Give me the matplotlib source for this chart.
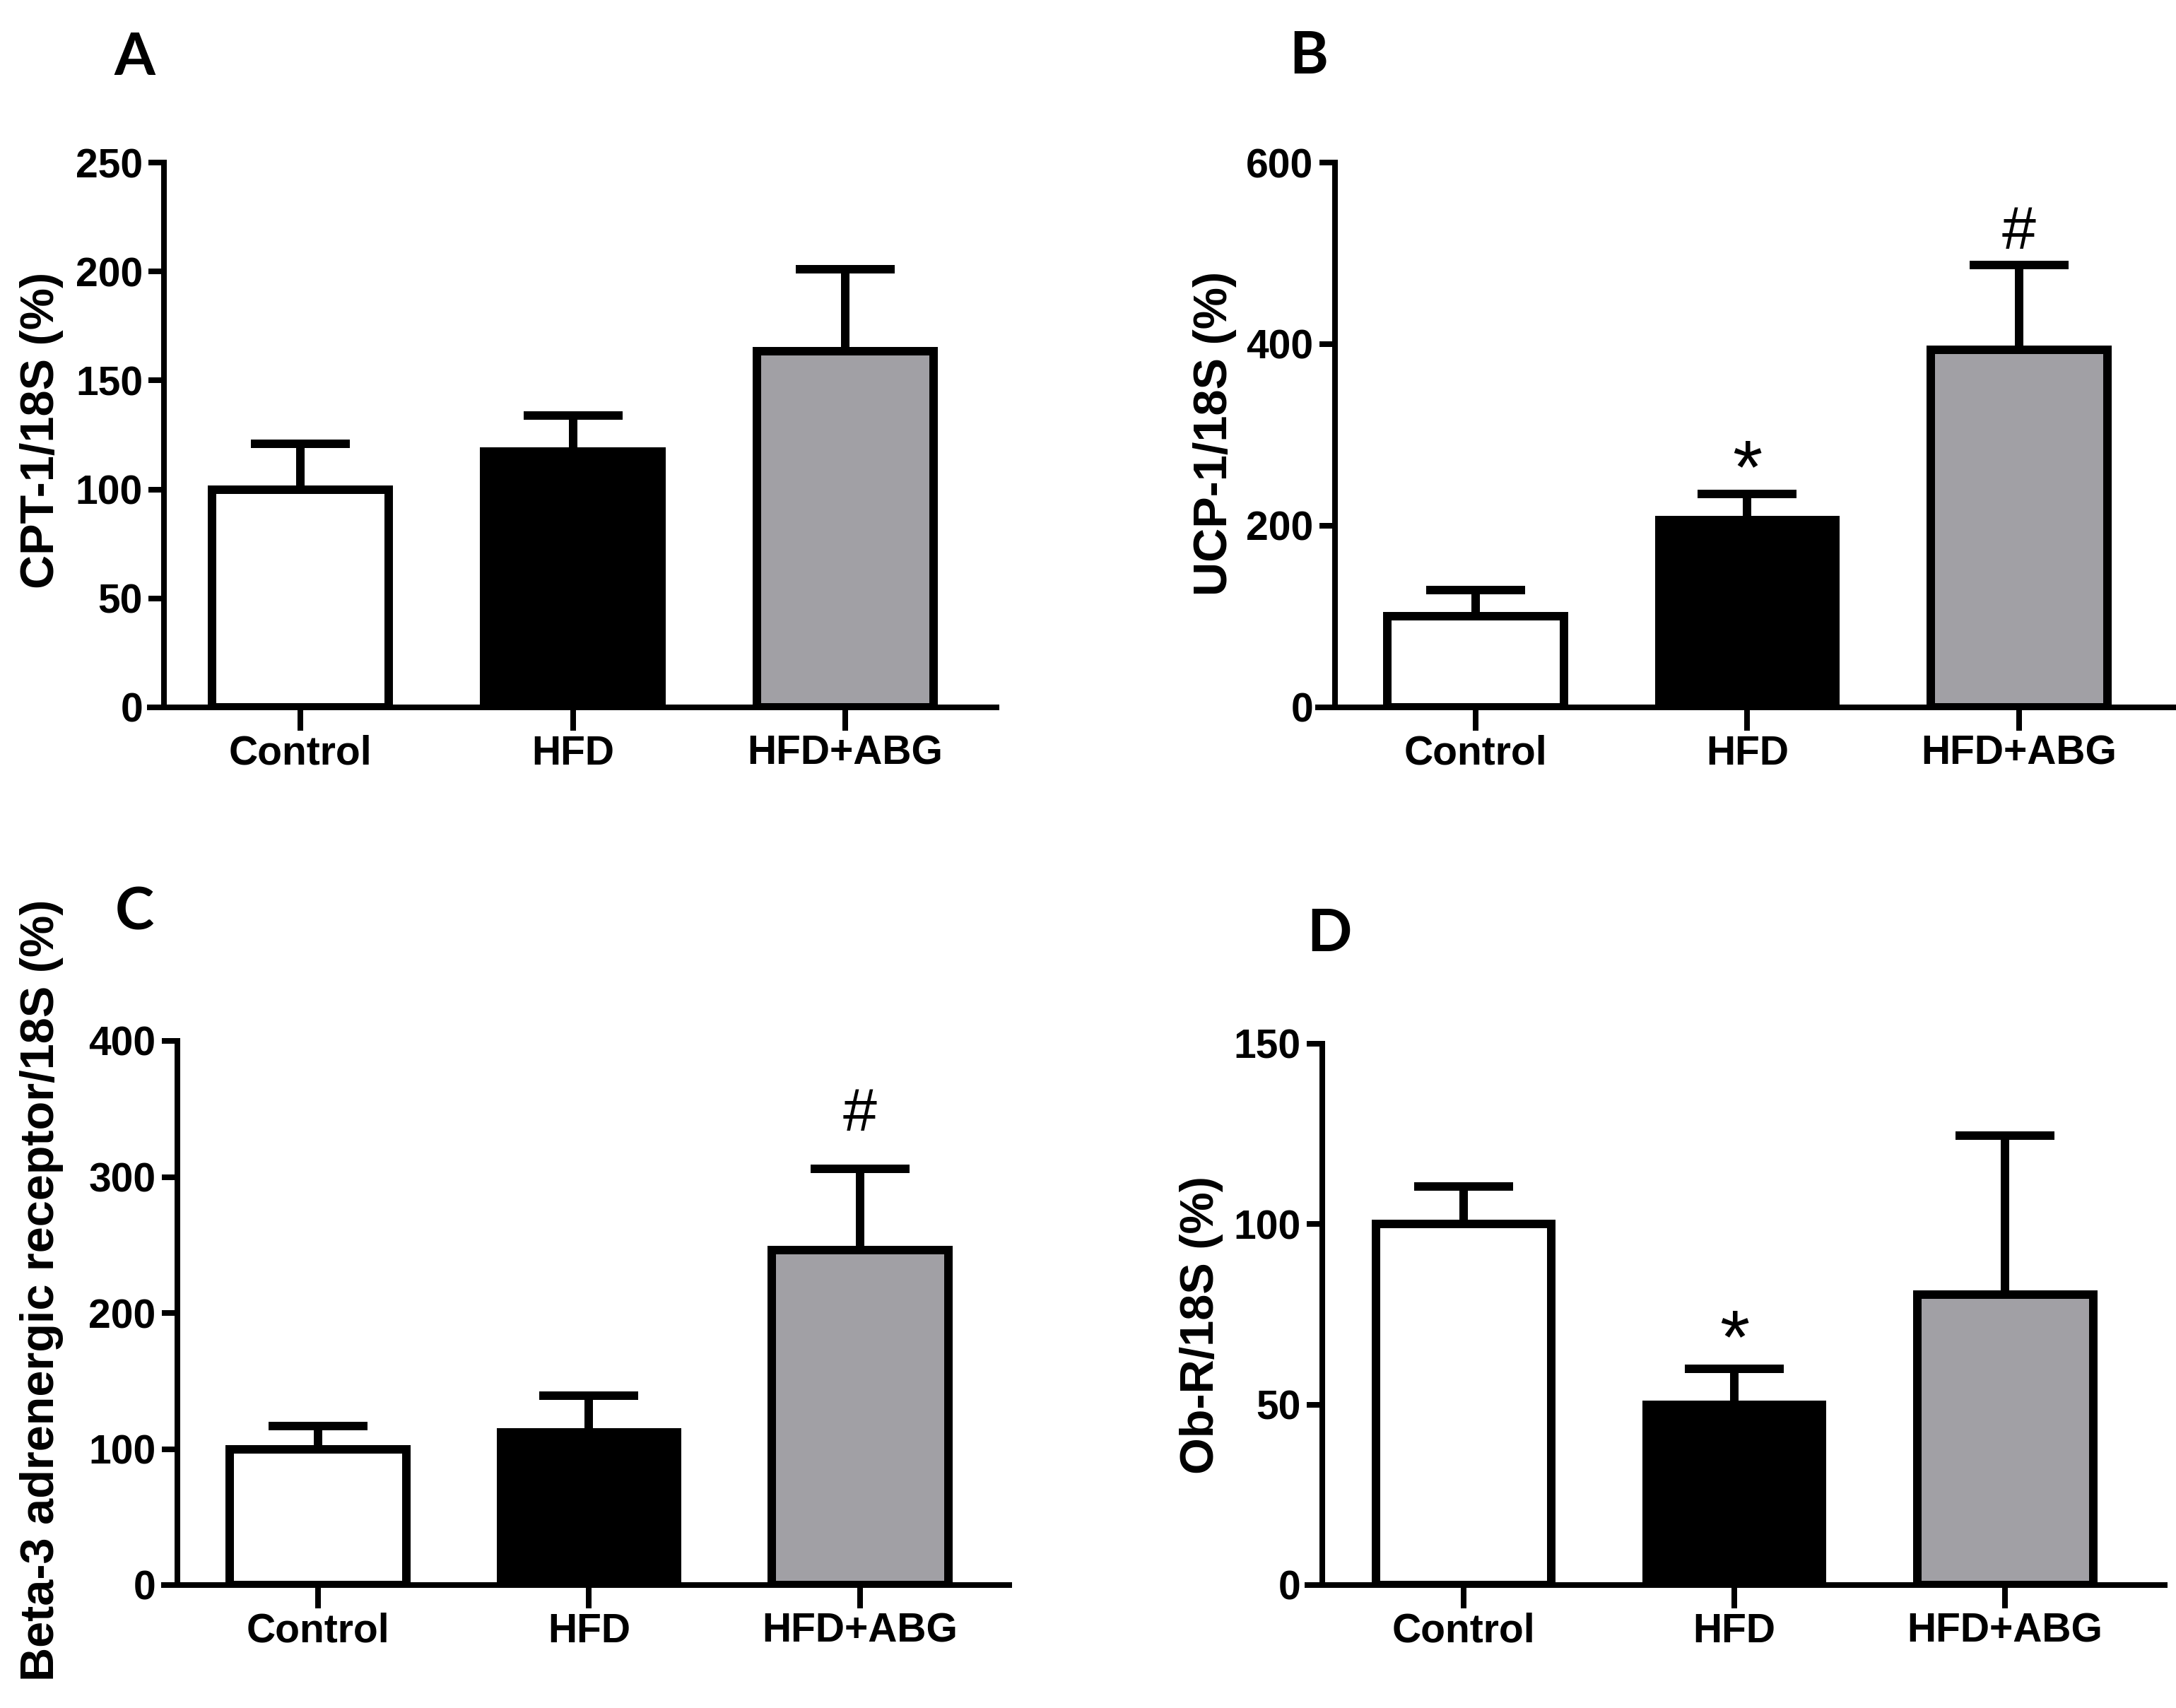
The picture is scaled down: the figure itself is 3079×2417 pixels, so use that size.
import matplotlib
matplotlib.use('Agg')
import matplotlib.pyplot as plt
import numpy as np

plt.rcParams['font.family'] = ['Liberation Sans', 'DejaVu Sans']

# ---------------- data ----------------
groups = ['Control', 'HFD', 'HFD+ABG']

cpt1_mean = [100, 117.5, 163.5]
cpt1_sem = [21, 16.5, 37.5]

ucp1_mean = [100, 206, 394]
ucp1_sem = [29, 29, 93]

beta3_mean = [100, 112, 246]
beta3_sem = [17, 27, 60]

obr_mean = [100, 50, 80.5]
obr_sem = [10.5, 10, 44]

ylabels = ['CPT-1/18S (%)', 'UCP-1/18S (%)',
           'Beta-3 adrenergic receptor/18S (%)', 'Ob-R/18S (%)']
panel_letters = ['A', 'B', 'C', 'D']
yticks_A = [0, 50, 100, 150, 200, 250]
yticks_B = [0, 200, 400, 600]
yticks_C = [0, 100, 200, 300, 400]
yticks_D = [0, 50, 100, 150]
marks_A = ['', '', '']
marks_B = ['', '*', '#']
marks_C = ['', '', '#']
marks_D = ['', '*', '']

bar_colors = ['white', 'black', '#a1a0a5']

# ---------------- layout (pixels of a 3079x2417 canvas) ----------------
W, H = 3079, 2417
DPI = 100
PX = 72.0 / DPI  # points per pixel

panels = [
    dict(mean=cpt1_mean, sem=cpt1_sem, yticks=yticks_A, marks=marks_A,
         xl=212, xr=1410, top=230, zero=1001, xlim=(-0.553, 2.555), spine=-0.50,
         lab=(59, 609), let=(190, 82), moff=55),
    dict(mean=ucp1_mean, sem=ucp1_sem, yticks=yticks_B, marks=marks_B,
         xl=1865, xr=3075, top=230, zero=1001, xlim=(-0.58, 2.567), spine=-0.518,
         lab=(1719, 613), let=(1852, 81), moff=55),
    dict(mean=beta3_mean, sem=beta3_sem, yticks=yticks_C, marks=marks_C,
         xl=232, xr=1428, top=1473, zero=2243, xlim=(-0.568, 2.55), spine=-0.519,
         lab=(59, 1826), let=(190, 1292), moff=86),
    dict(mean=obr_mean, sem=obr_sem, yticks=yticks_D, marks=marks_D,
         xl=1850, xr=3063, top=1477, zero=2243, xlim=(-0.577, 2.59), spine=-0.522,
         lab=(1700, 1875), let=(1881, 1322), moff=61),
]

mark_style = {'*': dict(size=78, shift=-25), '#': dict(size=62, shift=-10)}

fig = plt.figure(figsize=(W / DPI, H / DPI), dpi=DPI)
fig.patch.set_facecolor('white')

spine_lw = 8 * PX
edge_lw = 12 * PX

for p, ylabel, letter in zip(panels, ylabels, panel_letters):
    rect = [p['xl'] / W, 1 - p['zero'] / H, (p['xr'] - p['xl']) / W,
            (p['zero'] - p['top']) / H]
    ax = fig.add_axes(rect)
    ax.set_facecolor('none')
    x = np.arange(len(groups))
    mean = np.array(p['mean'], dtype=float)
    sem = np.array(p['sem'], dtype=float)

    ax.errorbar(x, mean, yerr=[np.zeros_like(sem), sem], fmt='none',
                ecolor='black', elinewidth=edge_lw, capsize=70 * PX,
                capthick=edge_lw, zorder=1)
    ax.bar(x, mean, width=0.65, color=bar_colors, edgecolor='black',
           linewidth=edge_lw, zorder=2)

    for xi, m, s, mk in zip(x, mean, sem, p['marks']):
        if mk:
            st = mark_style[mk]
            ax.annotate(mk, xy=(xi, m + s),
                        xytext=(0, (p['moff'] + st['shift']) * PX),
                        textcoords='offset points', ha='center', va='center',
                        fontsize=st['size'], color='black', zorder=3)

    ax.set_xlim(*p['xlim'])
    ax.set_ylim(0, p['yticks'][-1])
    ax.set_yticks(p['yticks'])
    ax.set_xticks(x)
    ax.set_xticklabels(groups)

    for s in ['top', 'right']:
        ax.spines[s].set_visible(False)
    ax.spines['left'].set_position(('data', p['spine']))
    for s in ['left', 'bottom']:
        ax.spines[s].set_linewidth(spine_lw)
        ax.spines[s].set_capstyle('projecting')

    ax.tick_params(axis='y', direction='out', length=22 * PX, width=spine_lw,
                   pad=6, labelsize=41)
    ax.tick_params(axis='x', direction='out', length=33 * PX, width=spine_lw,
                   pad=4, labelsize=41)
    for lab in ax.get_xticklabels() + ax.get_yticklabels():
        lab.set_fontweight('bold')

    ax.set_ylabel(ylabel, fontsize=48, fontweight='bold', va='center')
    ax.yaxis.set_label_coords(p['lab'][0] / W, 1 - p['lab'][1] / H,
                              transform=fig.transFigure)

    fig.text(p['let'][0] / W, 1 - p['let'][1] / H, letter,
             family=['Lato', 'DejaVu Sans'], fontweight='bold', fontsize=60,
             ha='center', va='center')

fig.savefig('out.png', dpi=DPI, facecolor='white')
